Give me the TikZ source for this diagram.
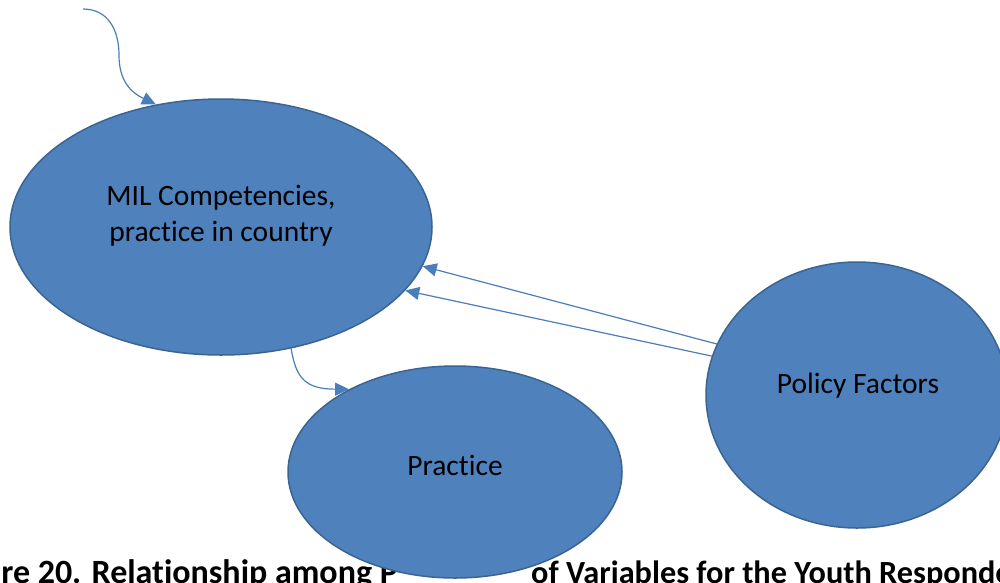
\documentclass[tikz,border=0pt]{standalone}
\usepackage{fontspec}
\setmainfont{Carlito}[Ligatures=NoCommon]
\usetikzlibrary{arrows.meta,shapes.geometric}
\definecolor{shapefill}{HTML}{4F81BD}
\definecolor{shapeedge}{HTML}{3A6591}
\definecolor{linkblue}{HTML}{4A7EBB}
\tikzset{
  blob/.style={ellipse, draw=shapeedge, line width=1.5pt, fill=shapefill, inner sep=0pt},
  inscription/.style={font=\fontsize{29.5}{36}\selectfont, text=black, align=center, inner sep=0pt},
  link/.style={draw=linkblue, line width=1.2pt, -{Triangle[length=14pt,width=13pt]}},
  captionline/.style={font=\bfseries\fontsize{33}{39}\selectfont, text=black, inner sep=0pt},
}
\begin{document}
\begin{tikzpicture}[x=1pt,y=-1pt]
\useasboundingbox (0,0) rectangle (1000,582);
\fill[white] (0,0) rectangle (1000,582);
\clip (0,0) rectangle (1000,582);

% figure caption along the bottom edge
\node[captionline, font=\bfseries\fontsize{34}{40}\selectfont, anchor=base east] (capL) at (398,583) {Figure 20. Relationship among P};
\node[captionline, font=\bfseries\fontsize{32.3}{38}\selectfont, anchor=base west] (capR) at (531,583) {of Variables for the Youth Respondents};

% the three variables
\node[blob, minimum width=422pt, minimum height=256pt] (mil) at (221,227) {};
\node[blob, minimum width=334pt, minimum height=212pt] (prac) at (455,472) {};
\node[blob, minimum width=302pt, minimum height=266pt] (pol) at (857,395) {};

\node[inscription] (miltxt) at (221,216) {MIL Competencies,\\practice in country};
\node[inscription, anchor=base] (practxt) at (455,475) {Practice};
\node[inscription, anchor=base] (poltxt) at (858,393) {Policy Factors};

% connectors
\coordinate (src) at (83,9);
\draw[link] (src) .. controls (108,9) and (119,30) .. (119,55)
                  .. controls (119,80) and (130,92) .. (mil.118.7);
\draw[link] (mil.-60.3) .. controls (296,378) and (305,389) .. (prac.142.8);
\draw[link] (pol.160) -- (mil.-11);
\draw[link] (pol.165.3) -- (mil.-19.65);
\end{tikzpicture}
\end{document}
